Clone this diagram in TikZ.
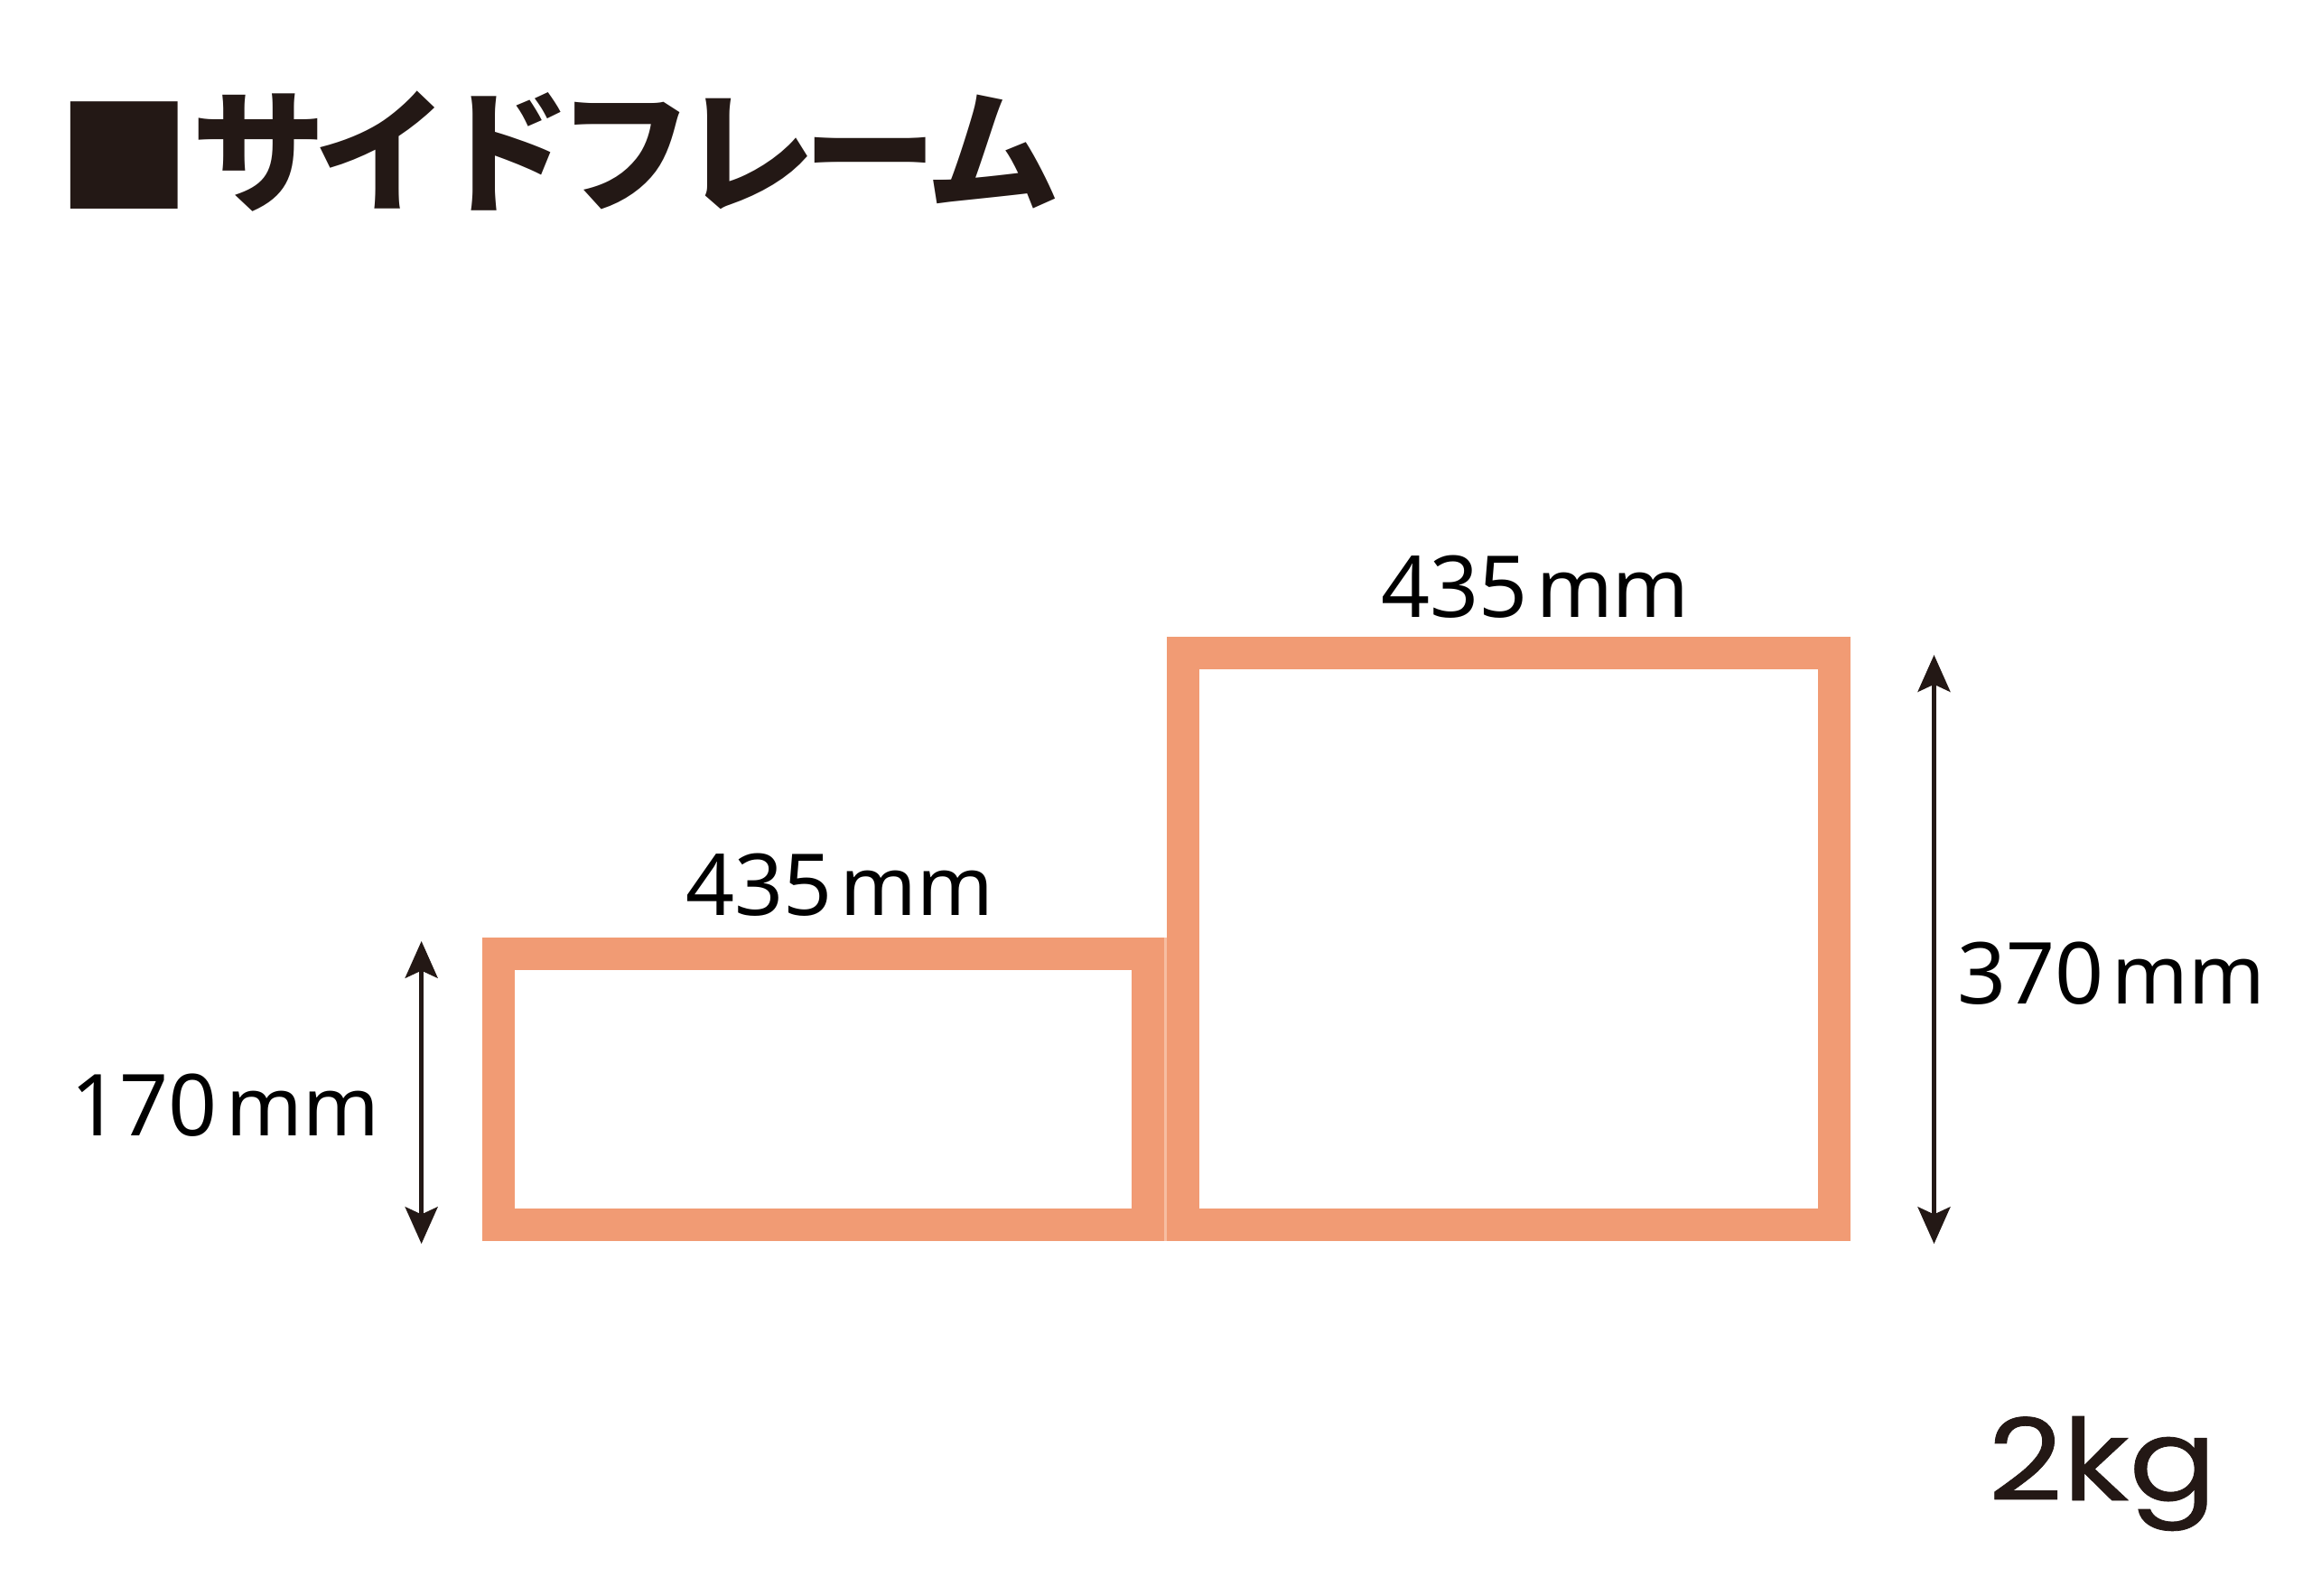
\documentclass[tikz,border=0pt]{standalone}
\usepackage{fontspec}
\setmainfont{Noto Sans}
\newfontfamily\jpfont{Noto Sans CJK JP}
\newfontfamily\kgfont{Poppins}[FakeBold=0.6]
\usetikzlibrary{arrows.meta}
\definecolor{frame}{RGB}{241,155,116}
\definecolor{framelt}{RGB}{247,190,162}
\definecolor{ink}{RGB}{35,24,21}
\newcommand{\kk}{\kern-8pt}
\newcommand{\mmunit}{\hspace{0.1em}{\fontsize{55.5}{60}\selectfont mm}}
\begin{document}
\begin{tikzpicture}[x=1pt,y=-1pt,
  frm/.style={draw=frame,line width=22pt},
  dimline/.style={draw=ink,line width=3pt,
    {Stealth[length=25pt,width=22pt,inset=5pt]}-{Stealth[length=25pt,width=22pt,inset=5pt]}},
  lbl/.style={anchor=base west,inner sep=0pt,text=black,font=\fontsize{58}{62}\selectfont}]
\useasboundingbox (0,0) rectangle (1569,1082.4);
% title
\node[anchor=base west,inner sep=0pt,text=ink,font=\jpfont\bfseries\fontsize{91}{96}\selectfont] (title) at (39,137)
  {\raisebox{-3pt}{■}サ\kk イ\kk ド\kk フ\kk レ\kk ー\kk ム};
% frames
\fill[framelt] (788,636) rectangle (794,842);
\draw[frm] (338.3,647.3) rectangle (779,830.8);
\draw[frm] (803,443.2) rectangle (1244.8,830.8);
% dimension arrows
\coordinate (lt) at (286,638.6);
\coordinate (lb) at (286,844);
\coordinate (rt) at (1312.5,444.4);
\coordinate (rb) at (1312.5,844);
\draw[dimline] (lt) -- (lb);
\draw[dimline] (rt) -- (rb);
% labels
\node[lbl] (wtop) at (937,419) {435\mmunit};
\node[lbl] (wbot) at (465,621) {435\mmunit};
\node[lbl] (hleft) at (48,771) {170\mmunit};
\node[lbl] (hright) at (1328,681) {370\mmunit};
\node[anchor=base west,inner sep=0pt,text=ink,font=\kgfont\fontsize{77}{80}\selectfont] (kg) at (1349,1018) {\scalebox{1.14}[1]{2kg}};
\end{tikzpicture}
\end{document}
